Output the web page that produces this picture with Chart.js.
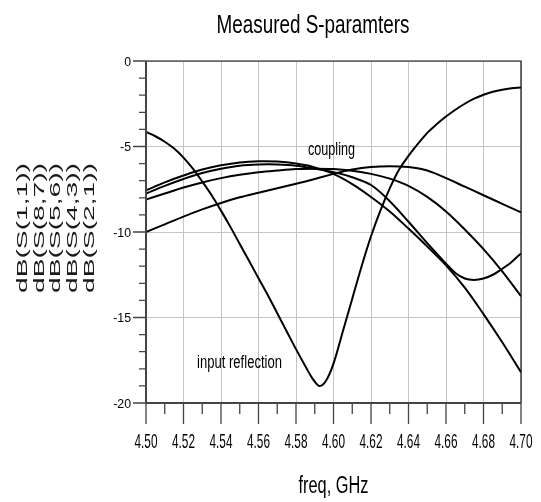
<!DOCTYPE html>
<html>
<head>
<meta charset="utf-8">
<title>Measured S-paramters</title>
<script src="https://cdn.jsdelivr.net/npm/chart.js@4.4.1/dist/chart.umd.min.js"></script>
<style>
  html, body { margin: 0; padding: 0; background: #fff; }
  #wrap { position: relative; width: 541px; height: 502px; }
</style>
</head>
<body>
<div id="wrap"><canvas id="chartCanvas"></canvas></div>
<script>
// values (dB vs GHz)
const freqS11 = [4.500, 4.505, 4.510, 4.515, 4.520, 4.525, 4.530, 4.535, 4.540, 4.545,
  4.550, 4.555, 4.560, 4.565, 4.570, 4.575, 4.580, 4.585, 4.589, 4.5925, 4.596,
  4.600, 4.605, 4.610, 4.615, 4.620, 4.625, 4.630, 4.635, 4.640, 4.645, 4.650,
  4.655, 4.660, 4.665, 4.670, 4.675, 4.680, 4.685, 4.690, 4.695, 4.700];
const dbS11 = [-4.15, -4.4, -4.72, -5.12, -5.65, -6.3, -7.05, -7.85, -8.75, -9.7,
  -10.7, -11.7, -12.7, -13.7, -14.75, -15.8, -16.85, -17.85, -18.6, -19.0, -18.7,
  -17.7, -15.8, -13.9, -12.0, -10.25, -8.75, -7.45, -6.35, -5.55, -4.85, -4.2,
  -3.7, -3.25, -2.85, -2.5, -2.2, -1.97, -1.8, -1.68, -1.6, -1.55];

const freqCpl = [4.50, 4.51, 4.52, 4.53, 4.54, 4.55, 4.56, 4.57, 4.58, 4.59, 4.60,
  4.61, 4.62, 4.63, 4.64, 4.65, 4.66, 4.67, 4.68, 4.69, 4.70];
const dbS21 = [-10.0, -9.55, -9.1, -8.68, -8.3, -7.97, -7.7, -7.44, -7.18, -6.9, -6.6,
  -6.35, -6.2, -6.15, -6.2, -6.4, -6.85, -7.35, -7.85, -8.35, -8.85];
const dbS87 = [-7.56, -7.1, -6.7, -6.35, -6.1, -5.93, -5.86, -5.88, -6.0, -6.22, -6.6,
  -7.2, -7.95, -8.8, -9.8, -10.85, -11.95, -13.25, -14.8, -16.45, -18.2];
const dbS43 = [-8.1, -7.75, -7.4, -7.1, -6.85, -6.65, -6.5, -6.4, -6.32, -6.3, -6.32,
  -6.42, -6.6, -6.88, -7.3, -7.95, -8.8, -9.85, -11.0, -12.3, -13.75];

// the trace with the dip is read a bit finer around its minimum
const freqS56 = [4.50, 4.51, 4.52, 4.53, 4.54, 4.55, 4.56, 4.57, 4.58, 4.59, 4.60,
  4.61, 4.62, 4.63, 4.64, 4.65, 4.655, 4.66, 4.665, 4.67, 4.675, 4.68, 4.685, 4.69,
  4.695, 4.70];
const dbS56 = [-7.75, -7.3, -6.9, -6.55, -6.3, -6.12, -6.05, -6.05, -6.12, -6.3, -6.5,
  -6.8, -7.25, -8.2, -9.4, -10.65, -11.25, -11.85, -12.4, -12.72, -12.8, -12.72,
  -12.5, -12.15, -11.75, -11.25];

const xTicks = [4.50, 4.52, 4.54, 4.56, 4.58, 4.60, 4.62, 4.64, 4.66, 4.68, 4.70];
const yTicks = [0, -5, -10, -15, -20];
const yTitleLines = ["dB(S(1,1))", "dB(S(8,7))", "dB(S(5,6))", "dB(S(4,3))", "dB(S(2,1))"];

const FONT = '"Liberation Sans", Arial, sans-serif';

function toPoints(xs, ys) {
  return xs.map((x, i) => ({ x: x, y: ys[i] }));
}

// draw text squeezed/stretched to a given width (the reference uses narrow type)
function fitText(ctx, text, x, y, size, width, align) {
  ctx.font = size + "px " + FONT;
  const w = ctx.measureText(text).width;
  ctx.save();
  ctx.translate(x, y);
  ctx.scale(width / w, 1);
  ctx.textAlign = align || "center";
  ctx.textBaseline = "alphabetic";
  ctx.fillText(text, 0, 0);
  ctx.restore();
}

const decorPlugin = {
  id: "decor",
  afterDraw(chart) {
    const ctx = chart.ctx;
    const a = chart.chartArea;
    const xs = chart.scales.x;
    const ys = chart.scales.y;
    ctx.save();

    // frame: top/right thin black, left/bottom dark axis lines
    ctx.strokeStyle = "#111";
    ctx.lineWidth = 1.2;
    ctx.beginPath();
    ctx.moveTo(a.left, a.top);
    ctx.lineTo(a.right, a.top);
    ctx.lineTo(a.right, a.bottom);
    ctx.stroke();

    ctx.strokeStyle = "#444";
    ctx.lineWidth = 2;
    ctx.beginPath();
    ctx.moveTo(a.left, a.top);
    ctx.lineTo(a.left, a.bottom);
    ctx.lineTo(a.right, a.bottom);
    ctx.stroke();

    // tick marks
    ctx.lineWidth = 1.3;
    ctx.beginPath();
    for (let i = 0; i < xTicks.length; i++) {
      const px = xs.getPixelForValue(xTicks[i]);
      ctx.moveTo(px, a.bottom);
      ctx.lineTo(px, a.bottom + 21);
      if (i < xTicks.length - 1) {
        const mx = xs.getPixelForValue((xTicks[i] + xTicks[i + 1]) / 2);
        ctx.moveTo(mx, a.bottom);
        ctx.lineTo(mx, a.bottom + 11);
      }
    }
    for (let v = 0; v >= -20; v--) {
      const py = ys.getPixelForValue(v);
      ctx.moveTo(a.left, py);
      ctx.lineTo(a.left - (v % 5 === 0 ? 13 : 7), py);
    }
    ctx.stroke();

    ctx.fillStyle = "#000";
    // tick labels
    xTicks.forEach(function (t) {
      fitText(ctx, t.toFixed(2), xs.getPixelForValue(t), a.bottom + 45, 21, 23, "center");
    });
    yTicks.forEach(function (t) {
      ctx.font = "13px " + FONT;
      const label = String(t);
      const w = ctx.measureText(label).width;
      fitText(ctx, label, a.left - 15, ys.getPixelForValue(t) + 4.7, 13, w * 0.95, "right");
    });

    // titles
    fitText(ctx, "Measured S-paramters", 313, 33, 25, 193, "center");
    fitText(ctx, "freq, GHz", (a.left + a.right) / 2, 493, 23, 70, "center");

    // rotated y title, one line per trace
    ctx.fillStyle = "#1a1a1a";
    yTitleLines.forEach(function (line, i) {
      ctx.font = "14px " + FONT;
      const w = ctx.measureText(line).width;
      ctx.save();
      ctx.translate(27 + i * 16.7, 228);
      ctx.rotate(-Math.PI / 2);
      ctx.scale(130 / w, 1);
      ctx.textAlign = "center";
      ctx.textBaseline = "alphabetic";
      ctx.fillText(line, 0, 0);
      ctx.restore();
    });

    // annotations
    ctx.fillStyle = "#000";
    fitText(ctx, "coupling", 308, 154.5, 18, 47, "left");
    fitText(ctx, "input reflection", 197, 367.5, 18, 85, "left");

    ctx.restore();
  }
};

function lineSet(label, xs, ys) {
  return {
    label: label,
    data: toPoints(xs, ys),
    borderColor: "#000",
    borderWidth: 2,
    pointRadius: 0,
    fill: false,
    tension: 0.35
  };
}

function drawChart() {
  const ctx = document.getElementById("chartCanvas").getContext("2d");
  new Chart(ctx, {
    type: "line",
    data: {
      datasets: [
        lineSet("dB(S(1,1))", freqS11, dbS11),
        lineSet("dB(S(8,7))", freqCpl, dbS87),
        lineSet("dB(S(5,6))", freqS56, dbS56),
        lineSet("dB(S(4,3))", freqCpl, dbS43),
        lineSet("dB(S(2,1))", freqCpl, dbS21)
      ]
    },
    options: {
      responsive: true,
      maintainAspectRatio: false,
      animation: false,
      devicePixelRatio: 1,
      layout: { padding: { left: 146, right: 20, top: 61, bottom: 99 } },
      plugins: {
        legend: { display: false },
        title: { display: false },
        tooltip: { enabled: false }
      },
      scales: {
        x: {
          type: "linear",
          min: 4.5,
          max: 4.7,
          ticks: { display: false, stepSize: 0.02 },
          grid: { color: "#c4c4c4", lineWidth: 1, drawTicks: false },
          border: { display: false }
        },
        y: {
          type: "linear",
          min: -20,
          max: 0,
          ticks: { display: false, stepSize: 5 },
          grid: { color: "#c4c4c4", lineWidth: 1, drawTicks: false },
          border: { display: false }
        }
      }
    },
    plugins: [decorPlugin]
  });
}

drawChart();
</script>
</body>
</html>
